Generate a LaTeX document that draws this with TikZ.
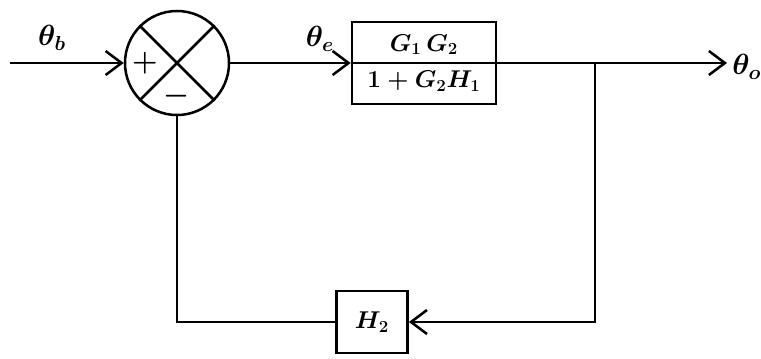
\documentclass[tikz,border=0pt]{standalone}
\usetikzlibrary{positioning,arrows.meta,calc}

\begin{document}
\begin{tikzpicture}[
  x=0.025cm, y=-0.025cm,
  font=\LARGE\boldmath,
  line width=1.8pt,
  sumNode/.style={
    circle, draw,
    minimum size=2.6cm,
    inner sep=0pt
  },
  block/.style={
    rectangle, draw,
    minimum width=3.6cm,
    minimum height=2.05cm,
    align=center,
    inner sep=2pt
  },
  feedBlock/.style={
    rectangle, draw,
    minimum width=1.78cm,
    minimum height=1.55cm
  },
  signal/.style={
    -{Straight Barb[length=0.4cm,width=0.6cm]}
  },
  sigLabel/.style={
    inner sep=0pt,
    font=\huge\boldmath
  },
  sign/.style={
    font=\huge\boldmath
  }
]

% Fix the frame to the reference size
\useasboundingbox (0,0) rectangle (761,358);

% Summing point with its cross and signs
\node[sumNode] (sum) at (177,63) {};
\draw (sum.north west) -- (sum.south east);
\draw (sum.north east) -- (sum.south west);
\node[sign] (plus) at ($(sum)+(-32,0)$) {$+$};
\node[sign] (minus) at ($(sum)+(0,33)$) {$-$};

% Forward block
\node[block] (G) at (424,63) {%
  $G_1\,G_2$\\[4pt]
  $1+G_2H_1$
};

% Signal ends
\coordinate (in) at (10,63);
\coordinate (branch) at (595,63);
\coordinate (out) at (727,63);

% Feedback block
\node[feedBlock] (H) at (372,322) {$H_2$};

% Labels
\node[sigLabel] (lb) at (52,38) {$\theta_b$};
\node[sigLabel] (le) at (320,39) {$\theta_e$};
\node[sigLabel, anchor=west] (lo) at (731,67) {$\theta_o$};

% Forward path
\draw[signal] (in) -- (sum.west);
\draw[signal] (sum.east) -- (G.west);
\draw[signal] (G.west) -- (out);

% Feedback path
\draw[signal] (branch) |- (H.east);
\draw (H.west) -| (sum.south);

\end{tikzpicture}
\end{document}
